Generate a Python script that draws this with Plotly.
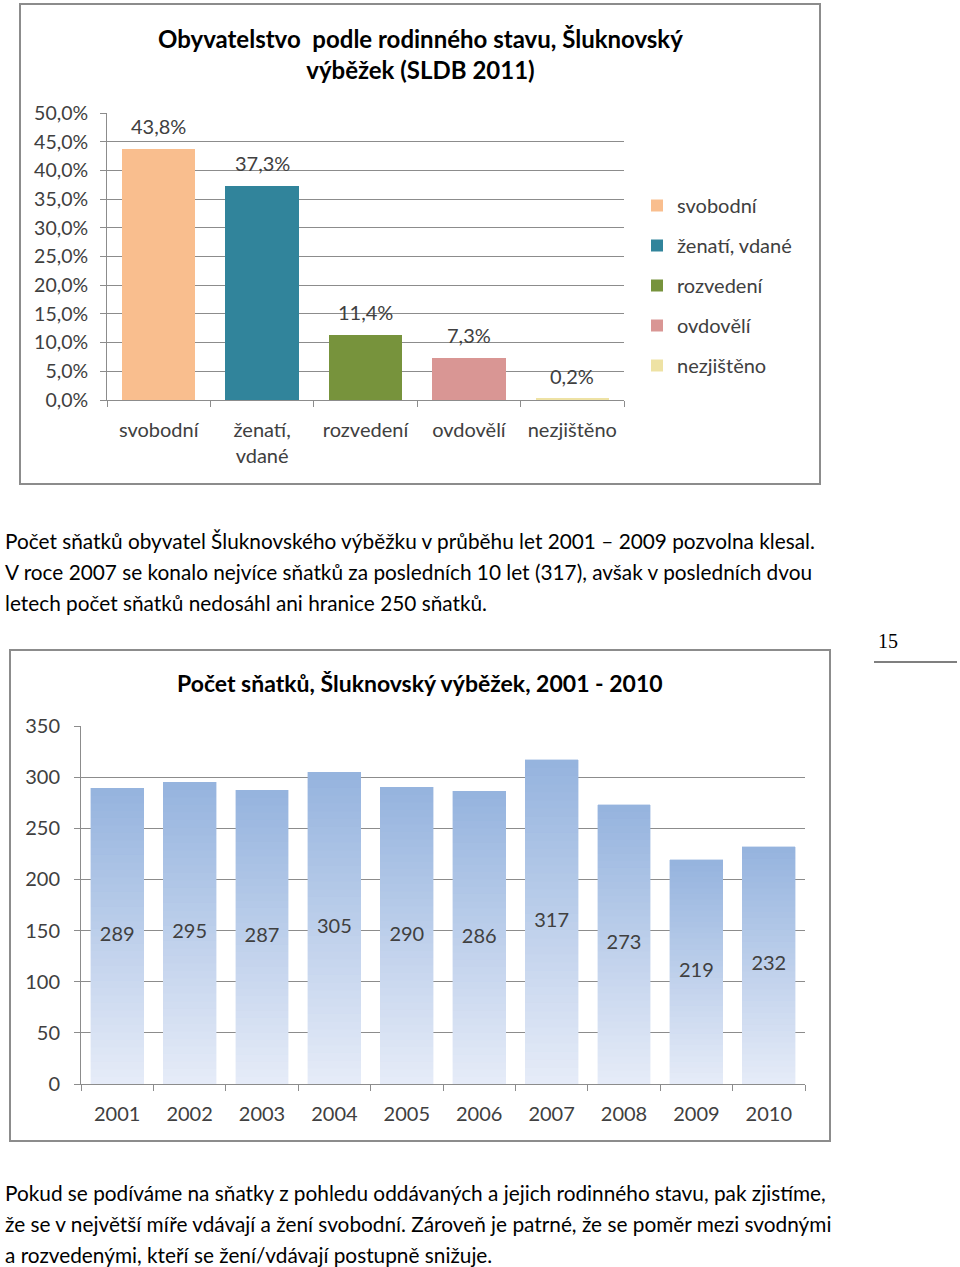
import plotly.graph_objects as go

# ---------------- data ----------------
status_cats = ["svobodní", "ženatí,<br>vdané", "rozvedení", "ovdovělí", "nezjištěno"]
status_names = ["svobodní", "ženatí, vdané", "rozvedení", "ovdovělí", "nezjištěno"]
status_pct = [43.8, 37.3, 11.4, 7.3, 0.2]
status_colors = ["#F9BE8E", "#31849B", "#77933C", "#D99694", "#EEE2A4"]

years = ["2001", "2002", "2003", "2004", "2005", "2006", "2007", "2008", "2009", "2010"]
marriages = [289, 295, 287, 305, 290, 286, 317, 273, 219, 232]

title1 = "<b>Obyvatelstvo  podle rodinného stavu, Šluknovský<br>výběžek (SLDB 2011)</b>"
title2 = "<b>Počet sňatků, Šluknovský výběžek, 2001 - 2010</b>"

para1 = [
    "Počet sňatků obyvatel Šluknovského výběžku v průběhu let 2001 – 2009 pozvolna klesal.",
    "V roce 2007 se konalo nejvíce sňatků za posledních 10 let (317), avšak v posledních dvou",
    "letech počet sňatků nedosáhl ani hranice 250 sňatků.",
]
para2 = [
    "Pokud se podíváme na sňatky z pohledu oddávaných a jejich rodinného stavu, pak zjistíme,",
    "že se v největší míře vdávají a žení svobodní. Zároveň je patrné, že se poměr mezi svodnými",
    "a rozvedenými, kteří se žení/vdávají postupně snižuje.",
]
page_no = "15"

# ---------------- figure ----------------
W, H = 960, 1267
FONT = "Lato, 'Open Sans', sans-serif"
TXT = "#404040"


def px(x):
    return x / W


def py(y):
    return 1 - y / H


fig = go.Figure()

# chart 1 bars
for cat, name, val, col in zip(status_cats, status_names, status_pct, status_colors):
    fig.add_trace(go.Bar(
        x=[cat], y=[val], name=name, marker=dict(color=col, line=dict(width=0)),
        width=0.71, xaxis="x", yaxis="y", legendgroup=name,
    ))
    fig.add_annotation(x=cat, y=val, xref="x", yref="y", text=f"{val:.1f}%".replace(".", ","),
                       showarrow=False, yshift=23, font=dict(size=20, color=TXT, family=FONT))

# chart 2 bars with vertical gradient (stacked slices of each bar)
N = 40
top = (149, 179, 222)
bot = (230, 236, 248)
for i in range(N):
    t = (i + 0.5) / N
    c = tuple(round(bot[k] + (top[k] - bot[k]) * t) for k in range(3))
    fig.add_trace(go.Bar(
        x=years, y=[v / N for v in marriages], xaxis="x2", yaxis="y2",
        marker=dict(color="rgb(%d,%d,%d)" % c, line=dict(width=0.4, color="rgb(%d,%d,%d)" % c)),
        width=0.73, showlegend=False, hoverinfo="skip",
    ))
fig.add_trace(go.Scatter(
    x=years, y=[v / 2 for v in marriages], mode="text", text=[str(v) for v in marriages],
    textfont=dict(size=20, color=TXT, family=FONT), xaxis="x2", yaxis="y2",
    showlegend=False, hoverinfo="skip",
))

grid = "#8C8C8C"
axis_common = dict(showline=True, linecolor=grid, linewidth=1, ticks="outside",
                   ticklen=6, tickcolor=grid, zeroline=False, automargin=False)

fig.update_layout(
    width=W, height=H, margin=dict(l=0, r=0, t=0, b=0, autoexpand=False),
    paper_bgcolor="white", plot_bgcolor="white",
    barmode="stack", separators=", ",
    font=dict(family=FONT, color=TXT),
    xaxis=dict(domain=[px(107), px(624)], anchor="y", type="category",
               tickson="boundaries", tickfont=dict(size=20, color=TXT),
               ticklabelstandoff=12, **axis_common),
    yaxis=dict(domain=[py(400), py(113)], anchor="x", range=[0, 50], dtick=5,
               tickformat=".1f", ticksuffix="%", showgrid=True, gridcolor=grid, gridwidth=1,
               tickfont=dict(size=19.5, color=TXT), ticklabelstandoff=8, **axis_common),
    xaxis2=dict(domain=[px(81), px(805)], anchor="y2", type="category",
                tickson="boundaries", tickfont=dict(size=20, color=TXT),
                ticklabelstandoff=12, **axis_common),
    yaxis2=dict(domain=[py(1084), py(726)], anchor="x2", range=[0, 350], dtick=50,
                showgrid=True, gridcolor=grid, gridwidth=1,
                tickfont=dict(size=20, color=TXT), ticklabelstandoff=10, **axis_common),
    legend=dict(x=px(637), y=py(186), xanchor="left", yanchor="top",
                font=dict(size=20, color=TXT, family=FONT), tracegroupgap=11,
                bgcolor="rgba(0,0,0,0)", itemwidth=30),
    showlegend=True,
)

# chart borders
fig.add_shape(type="rect", xref="paper", yref="paper", x0=px(20), x1=px(820), y0=py(484), y1=py(4),
              line=dict(color="#8C8C8C", width=2), layer="below")
fig.add_shape(type="rect", xref="paper", yref="paper", x0=px(10), x1=px(830), y0=py(1141), y1=py(650),
              line=dict(color="#8C8C8C", width=2), layer="below")

# chart titles
fig.add_annotation(text=title1, x=px(420), y=py(54), xref="paper", yref="paper", showarrow=False,
                   yanchor="middle", font=dict(size=24, color="#000000", family=FONT), align="center")
fig.add_annotation(text=title2, x=px(420), y=py(683), xref="paper", yref="paper", showarrow=False,
                   yanchor="middle", font=dict(size=23, color="#000000", family=FONT), align="center")

# paragraphs
for i, line in enumerate(para1):
    fig.add_annotation(text=line, x=px(3), y=py(540 + 31 * i), xref="paper", yref="paper",
                       xanchor="left", yanchor="middle", showarrow=False,
                       font=dict(size=20.8, color="#000000", family=FONT))
for i, line in enumerate(para2):
    fig.add_annotation(text=line, x=px(3), y=py(1192 + 31 * i), xref="paper", yref="paper",
                       xanchor="left", yanchor="middle", showarrow=False,
                       font=dict(size=20.8, color="#000000", family=FONT))

# page number
fig.add_annotation(text=page_no, x=px(876), y=py(641), xref="paper", yref="paper", xanchor="left",
                   yanchor="middle", showarrow=False,
                   font=dict(size=20, color="#000000", family="'Liberation Serif', serif"))
fig.add_shape(type="line", xref="paper", yref="paper", x0=px(874), x1=px(957), y0=py(662), y1=py(662),
              line=dict(color="#555555", width=1.5))

fig.write_html("out.html", config={"displayModeBar": False},
               post_script="document.body.style.margin='0';")
